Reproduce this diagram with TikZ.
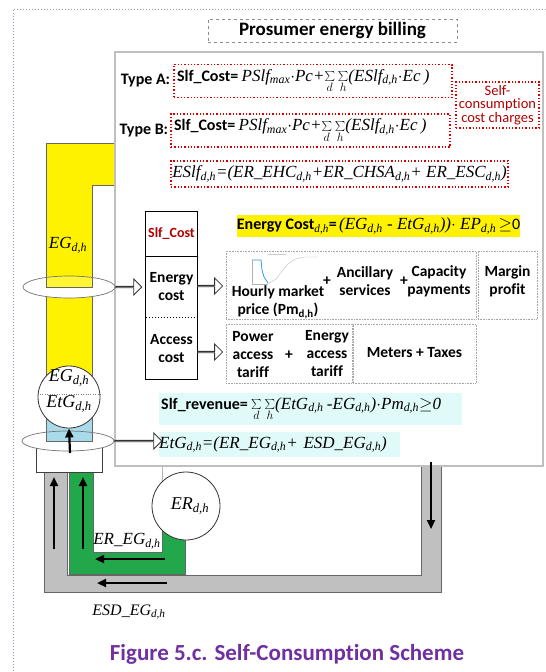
\documentclass[tikz,border=0pt]{standalone}
\usepackage{fontspec}
\setmainfont{Carlito}[Ligatures={NoCommon}]
\newfontfamily\tnr{Liberation Serif}
\usepackage{tikz}
\usetikzlibrary{positioning, shapes.geometric, shapes.arrows, arrows.meta, calc}
\definecolor{pipegrey}{HTML}{C0C0C0}
\definecolor{pipegreen}{HTML}{22A84A}
\definecolor{iceblue}{HTML}{A9DAEA}
\definecolor{hicyan}{HTML}{E0FAFA}
\definecolor{costred}{HTML}{B00000}
\definecolor{capviolet}{HTML}{7030A0}
\definecolor{frameviolet}{HTML}{A58CC8}
\newcommand{\fml}{\tnr\itshape}
\newcommand{\idx}[1]{\textsubscript{#1}}
\newcommand{\sumdh}{\ensuremath{\sum\limits_{d}\sum\limits_{h}}}

\begin{document}
\begin{tikzpicture}[x=1pt, y=-1pt,
    txt/.style={font=\fontsize{15.5}{18}\selectfont\bfseries, align=center, inner sep=0pt},
    fm/.style={font=\fml\fontsize{17}{19}\selectfont, inner sep=0pt},
    redbox/.style={draw=red!85!black, line width=1.3pt, dotted, inner sep=0pt},
    greybox/.style={draw=black!35, densely dotted, line width=0.6pt, inner sep=0pt},
    ring/.style={ellipse, draw=black!55, line width=0.7pt, minimum width=92pt, minimum height=22pt, inner sep=0pt},
    bubble/.style={circle, draw=black!80, line width=0.8pt, fill=white, inner sep=0pt},
    hollow/.style={single arrow, draw=black!80, line width=0.8pt, fill=white, minimum height=#1, minimum width=16pt, single arrow head extend=4.5pt, inner sep=0pt, anchor=tail},
    flow/.style={-{Triangle[length=9pt, width=8pt]}, line width=2.2pt},
    pipe/.style={draw=black!60, line width=0.8pt}
]
\useasboundingbox (0,0) rectangle (546,672);

% dotted frame of the page
\draw[frameviolet, line width=1pt, dotted] (546,9) -- (13,9) -- (13,672);

% pipes behind the billing panel
\filldraw[pipe, fill=yellow] (46,405) -- (46,143) -- (140,143) -- (140,185) -- (92,185) -- (92,405);
\filldraw[pipe, fill=iceblue] (46,410) rectangle (92,441);
\filldraw[pipe, fill=pipegrey] (44,472) -- (44,592) -- (441,592) -- (441,440) -- (421,440) -- (421,575) -- (67,575) -- (67,472) -- cycle;
\filldraw[pipe, fill=pipegreen] (69,472) -- (69,574) -- (185,574) -- (185,515) -- (162,515) -- (162,552) -- (93,552) -- (93,472) -- cycle;
\draw[black!30] (162,460) -- (162,515);
\filldraw[pipe, draw=black!75, fill=white] (36,441) rectangle (102,472);

% billing panel
\node[draw=black!25, line width=1.5pt, fill=white, minimum width=428pt, minimum height=414pt, anchor=north west] (panel) at (114,51) {};
\node[draw=black!45, dashed, minimum width=249pt, minimum height=23pt, font=\fontsize{19}{21}\selectfont\bfseries] (title) at (332.5,30.5) {Prosumer energy billing};

% self-consumption charges
\node[redbox, minimum height=33pt, text width=272pt, inner xsep=3pt, align=left] (typeA) at (313,81) {{\fontsize{16}{18}\selectfont\bfseries Slf\_Cost=} {\fml\fontsize{17}{19}\selectfont PSlf\idx{max}$\cdot$Pc+\sumdh(ESlf\idx{d,h}$\cdot$Ec )}};
\node[txt, font=\fontsize{16}{18}\selectfont\bfseries, anchor=east] (labA) at ([xshift=-3pt]typeA.west) {Type A:};
\node[redbox, minimum height=33pt, text width=273pt, inner xsep=3pt, align=left] (typeB) at (310.5,130.5) {{\fontsize{16}{18}\selectfont\bfseries Slf\_Cost=} {\fml\fontsize{17}{19}\selectfont PSlf\idx{max}$\cdot$Pc+\sumdh(ESlf\idx{d,h}$\cdot$Ec )}};
\node[txt, font=\fontsize{16}{18}\selectfont\bfseries, anchor=east] (labB) at ([xshift=-2pt]typeB.west) {Type B:};
\node[redbox, fm, minimum width=337pt, minimum height=26pt] (eslf) at (339.5,174) {ESlf\idx{d,h}=(ER\_EHC\idx{d,h}+ER\_CHSA\idx{d,h}+ ER\_ESC\idx{d,h})};
\node[redbox, minimum width=83pt, minimum height=46pt, align=center, text=costred, font=\fontsize{14.5}{13.5}\selectfont] (selfc) at (497.5,105) {Self-\\consumption\\cost charges};

% cost column
\node[minimum width=51pt, minimum height=44pt, inner sep=0pt, text=costred, font=\fontsize{14}{16}\selectfont\bfseries] (slfc) at (171.5,234) {Slf\_Cost};
\node[txt, minimum width=51pt, minimum height=61pt, below=0pt of slfc] (ecost) {Energy\\cost};
\node[txt, minimum width=51pt, minimum height=61pt, below=0pt of ecost] (acost) {Access\\cost};
\draw[line width=1pt] (slfc.north west) rectangle (acost.south east);
\draw[line width=1pt] (slfc.south west) -- (slfc.south east);
\draw[line width=1pt, dotted] (ecost.south west) -- (ecost.south east);

% energy cost terms
\node[fill=yellow, minimum width=277pt, minimum height=22pt, inner sep=0pt] (ecform) at (378.5,226) {{\fontsize{16}{18}\selectfont\bfseries Energy Cost\idx{\fml\mdseries d,h}=} {\fml\fontsize{17}{19}\selectfont (EG\idx{d,h} - EtG\idx{d,h}))$\cdot$ EP\idx{d,h}} {\fontsize{16}{18}\selectfont$\geq$0}};
\node[greybox, minimum width=250pt, minimum height=68pt] (market) at (351,285) {};
\node[greybox, minimum width=59pt, minimum height=68pt] (margbox) at (507.5,285) {};
\draw[black!30, line width=0.4pt] (252,260) -- (252,284) -- (268,284);
\draw[black!25, line width=0.4pt] (268,284) -- (276,279) -- (283,270) -- (288,264) -- (295,259) -- (305,257) -- (318,257);
\draw[cyan!70!blue!80, line width=0.8pt] (252,260) -- (261,260) -- (262,270) -- (264,277) -- (268,283);
\draw[black!20, line width=0.6pt] (268,254) -- (286,254);
\node[txt] (hourly) at (278,302) {Hourly market\\price (Pm\textsubscript{d,h})};
\node[txt] (plus1) at (327,281) {+};
\node[txt] (ancil) at (365,281) {Ancillary\\services};
\node[txt] (plus2) at (404,281) {+};
\node[txt] (capac) at (439,281) {Capacity\\payments};
\node[txt] (margin) at (507.5,281) {Margin\\profit};

% access cost terms
\node[greybox, minimum width=126pt, minimum height=59pt] (accbox) at (289,353.5) {};
\node[greybox, minimum width=123pt, minimum height=59pt] (taxbox) at (414.5,353.5) {};
\node[txt] (power) at (253,355) {Power\\access\\tariff};
\node[txt] (plus3) at (289,355) {+};
\node[txt] (eacc) at (327,354) {Energy\\access\\tariff};
\node[txt] (meters) at (414.5,353) {Meters + Taxes};

% revenue
\node[fill=hicyan, minimum height=32pt, text width=299pt, inner xsep=2pt, inner ysep=0pt, align=left, anchor=west] (rev) at (159,409) {{\fontsize{16}{18}\selectfont\bfseries Slf\_revenue=} {\fml\fontsize{17}{19}\selectfont\sumdh(EtG\idx{d,h} -EG\idx{d,h})$\cdot$Pm\idx{d,h}$\geq$0}};
\node[fill=hicyan, minimum height=25pt, text width=241pt, inner xsep=2pt, inner ysep=0pt, align=left, anchor=west, fm] (etg) at (159,444.5) {EtG\idx{d,h}=(ER\_EG\idx{d,h}+ ESD\_EG\idx{d,h})};

% upper ring on the yellow pipe
\fill[white] (69,287) ellipse [x radius=46pt, y radius=11pt];
\begin{scope}
  \clip (69,287) ellipse [x radius=46pt, y radius=11pt];
  \filldraw[pipe, fill=yellow!80!white] (46,270) rectangle (92,287);
\end{scope}
\node[ring] (ringU) at (69,287) {};
\node[fm] (lblEG) at (68,245) {EG\idx{d,h}};

% lower ring on the light blue pipe
\fill[white] (68,441) ellipse [x radius=46pt, y radius=10pt];
\begin{scope}
  \clip (68,441) ellipse [x radius=46pt, y radius=10pt];
  \filldraw[pipe, fill=iceblue] (46,425) rectangle (92,441);
\end{scope}
\node[ring, minimum width=92pt, minimum height=20pt] (ringL) at (68,441) {};

% meter and self-consumption generator
\node[bubble, minimum size=62pt] (egc) at (69,397) {};
\draw[black!50, dotted] (egc.west |- 0,394) -- (egc.east |- 0,394);
\node[fm, font=\fml\fontsize{18}{20}\selectfont] (lblEGc) at (69,378) {EG\idx{d,h}};
\node[fm, font=\fml\fontsize{18}{20}\selectfont] (lblEtG) at (69,404) {EtG\idx{d,h}};
\node[bubble, minimum size=68pt, font=\fml\fontsize{18}{20}\selectfont] (erc) at (186,506) {\hspace{8pt}ER\idx{d,h}};

% hollow arrows
\node[hollow=26pt] (arrRing) at (ringU.east) {};
\node[hollow=25pt] (arrE) at (ecost.east |- 0,286) {};
\node[hollow=25pt] (arrA) at (acost.east |- 0,352) {};
\node[hollow=47pt] (arrL) at (ringL.east) {};

% energy flows
\coordinate (upA) at (70,453);
\coordinate (gl0) at (54,549);
\coordinate (gl1) at (54,477);
\coordinate (gr0) at (83,549);
\coordinate (gr1) at (83,477);
\coordinate (gb0) at (165,559);
\coordinate (gb1) at (95,559);
\coordinate (sb0) at (167,583);
\coordinate (sb1) at (97,583);
\coordinate (rd0) at (431,462);
\coordinate (rd1) at (431,529);
\draw[flow] (upA) -- (egc.south);
\draw[flow] (gl0) -- (gl1);
\draw[flow] (gr0) -- (gr1);
\draw[flow] (gb0) -- (gb1);
\draw[flow] (sb0) -- (sb1);
\draw[flow] (rd0) -- (rd1);
\node[fm] (lblER) at (127,541) {ER\_EG\idx{d,h}};
\node[fm, font=\fml\fontsize{16}{18}\selectfont] (lblESD) at (129,612) {ESD\_EG\idx{d,h}};

% caption
\node[font=\fontsize{23}{26}\selectfont\bfseries, text=capviolet] (caption) at (287,654) {Figure 5.c. Self-Consumption Scheme};
\end{tikzpicture}
\end{document}
